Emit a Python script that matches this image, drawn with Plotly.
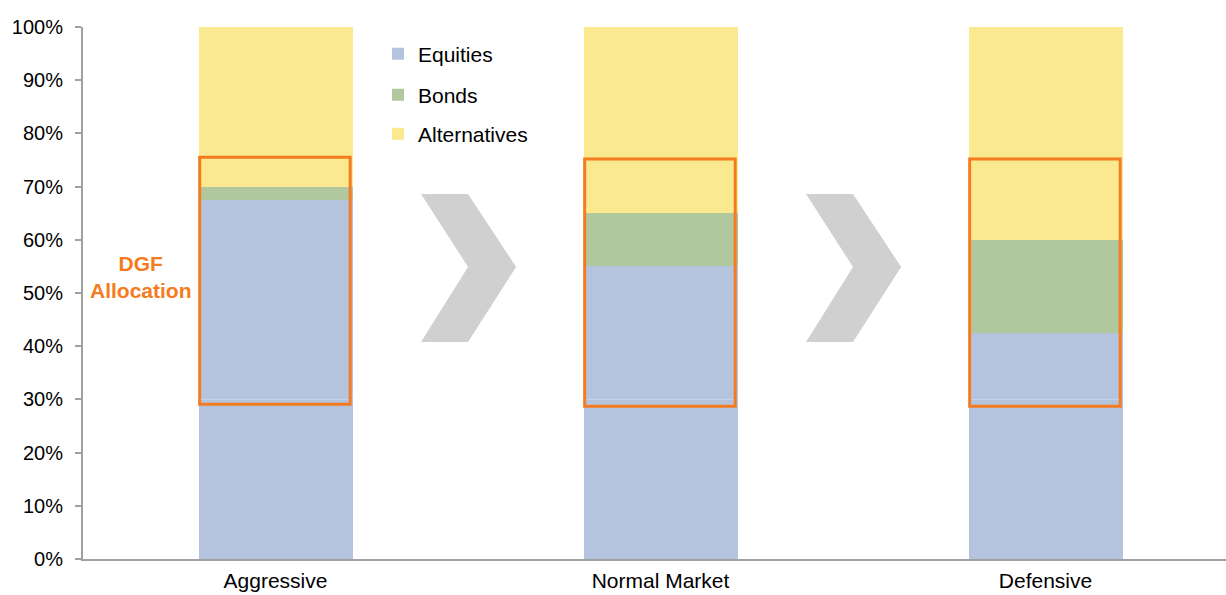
import plotly.graph_objects as go

categories = ["Aggressive", "Normal Market", "Defensive"]
equities_core = [0.30, 0.30, 0.30]
equities_dgf = [0.375, 0.25, 0.125]
bonds = [0.025, 0.10, 0.175]
alternatives = [0.30, 0.35, 0.40]

dgf_box_low = [0.291, 0.287, 0.287]
dgf_box_high = [0.755, 0.752, 0.752]

C_EQ = "#b4c4de"
C_BD = "#b1c79e"
C_ALT = "#fae98f"
C_OR = "#f47b20"
C_CHEV = "#d0d0d0"
FONT = "Liberation Sans, Arial, sans-serif"

xs = list(range(len(categories)))
fig = go.Figure()
fig.add_trace(go.Bar(x=xs, y=equities_core, name="Equities", marker_color=C_EQ,
                     marker_line_width=0, legend="legend", legendgroup="eq"))
fig.add_trace(go.Bar(x=xs, y=equities_dgf, name="Equities", marker_color=C_EQ,
                     marker_line_width=0, showlegend=False, legendgroup="eq"))
fig.add_trace(go.Bar(x=xs, y=bonds, name="Bonds", marker_color=C_BD,
                     marker_line_width=0, legend="legend2"))
fig.add_trace(go.Bar(x=xs, y=alternatives, name="Alternatives", marker_color=C_ALT,
                     marker_line_width=0, legend="legend3"))

bw = 0.4
shapes = []
# faint seam at top of core equities
for i, v in enumerate(equities_core):
    shapes.append(dict(type="line", xref="x", yref="y", x0=i - bw / 2, x1=i + bw / 2,
                       y0=v, y1=v, line=dict(color="#c9d4e8", width=1), layer="above"))
# DGF allocation boxes
for i in xs:
    shapes.append(dict(type="rect", xref="x", yref="y", x0=i - bw / 2 + 0.003, x1=i + bw / 2 - 0.006,
                       y0=dgf_box_low[i], y1=dgf_box_high[i],
                       line=dict(color=C_OR, width=3), fillcolor="rgba(0,0,0,0)", layer="above"))
# chevrons between categories
for i in range(len(categories) - 1):
    c = i + 0.5
    xl, xm, xr = c - 0.122, c, c + 0.125
    yt, ym, yb = 0.686, 0.549, 0.408
    path = (f"M{xl},{yt} L{xm},{yt} L{xr},{ym} L{xm},{yb} L{xl},{yb} L{xm},{ym} Z")
    shapes.append(dict(type="path", xref="x", yref="y", path=path,
                       fillcolor=C_CHEV, line=dict(width=0), layer="above"))

LX = (378 - 83) / 1143
fig.update_layout(
    barmode="stack",
    bargap=0.6,
    width=1226, height=595,
    margin=dict(l=83, r=0, t=27, b=36),
    paper_bgcolor="white", plot_bgcolor="white",
    font=dict(family=FONT, size=20, color="#000000"),
    shapes=shapes,
    annotations=[dict(x=-0.349, y=0.53, xref="x", yref="y", text="<b>DGF<br>Allocation</b>",
                      showarrow=False, align="center",
                      font=dict(family=FONT, size=21, color=C_OR))],
    legend=dict(x=LX, y=(559 - 54) / 532, xanchor="left", yanchor="middle",
                bgcolor="rgba(0,0,0,0)", font=dict(size=21)),
    legend2=dict(x=LX, y=(559 - 95) / 532, xanchor="left", yanchor="middle",
                 bgcolor="rgba(0,0,0,0)", font=dict(size=21)),
    legend3=dict(x=LX, y=(559 - 134) / 532, xanchor="left", yanchor="middle",
                 bgcolor="rgba(0,0,0,0)", font=dict(size=21)),
    xaxis=dict(range=[-0.5, -0.5 + 1143 / 385], tickvals=xs, ticktext=categories,
               showline=True, linecolor="#a0a0a0", linewidth=2, ticks="",
               showgrid=False, zeroline=False, fixedrange=True, automargin=False,
               tickfont=dict(size=21), ticklabelstandoff=2),
    yaxis=dict(range=[0, 1], dtick=0.1, tickformat=".0%", showline=True,
               linecolor="#a0a0a0", linewidth=2, ticks="outside", ticklen=6,
               tickcolor="#a0a0a0", tickwidth=2, showgrid=False, zeroline=False,
               automargin=False, ticklabelstandoff=8),
)

fig.write_html("out.html")
